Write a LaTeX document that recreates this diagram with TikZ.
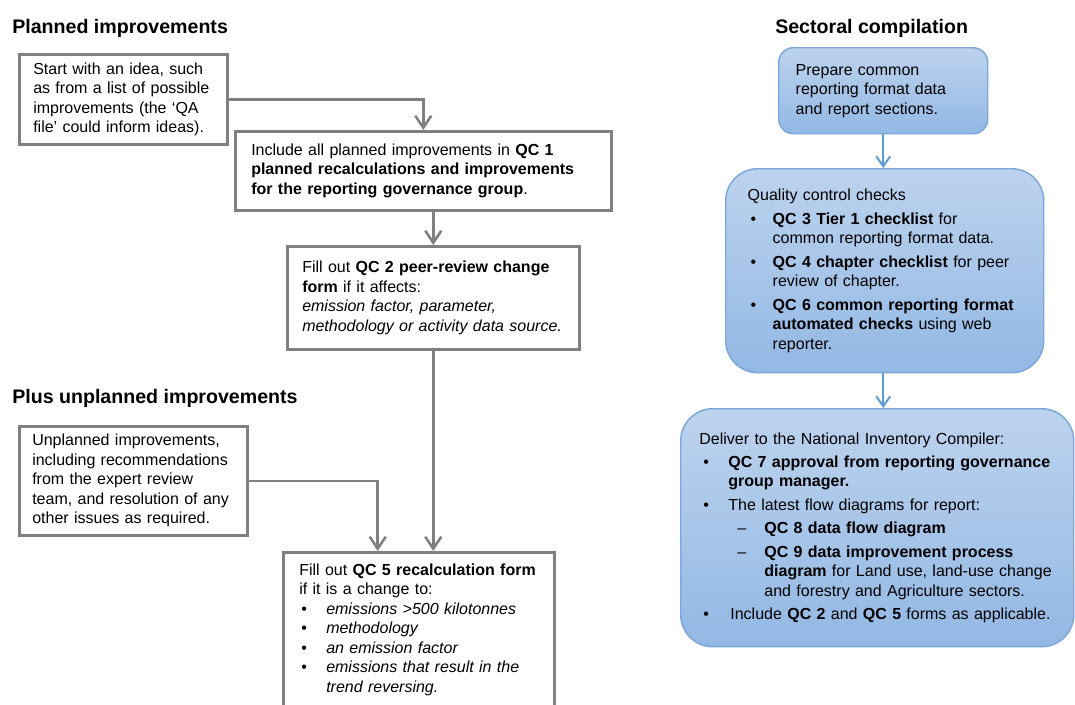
\documentclass[tikz,border=0pt]{standalone}
\usepackage{fontspec}
\setmainfont{Liberation Sans}
\usetikzlibrary{positioning,arrows.meta,calc}
\definecolor{QCGrey}{RGB}{128,128,128}
\definecolor{QCBlueTop}{RGB}{189,211,238}
\definecolor{QCBlueBottom}{RGB}{146,184,228}
\definecolor{QCBlueLine}{RGB}{125,167,217}
\definecolor{QCBlueArrow}{RGB}{91,155,213}
\newcommand{\boxfont}{\fontsize{12}{14.6}\selectfont}
\newcommand{\headfont}{\fontsize{14.7}{17}\selectfont\bfseries}
% bullet and dash markers: lead-in space, then a fixed-width box
\newcommand{\bul}[2]{\hspace*{#1}\makebox[#2][l]{\textbullet}}
\newcommand{\subdash}[2]{\hspace*{#1}\makebox[#2][l]{--}}
\newcommand{\qcindent}[1]{\hspace*{#1}}
\tikzset{headline/.style={font=\headfont, anchor=base west, inner sep=0pt}, planbox/.style={draw=QCGrey, line width=1.9pt, fill=white, align=left, anchor=north west, font=\boxfont}, secbox/.style={draw=QCBlueLine, line width=1.1pt, top color=QCBlueTop, bottom color=QCBlueBottom, align=left, anchor=north west, font=\boxfont}, planarrow/.style={-{Straight Barb[length=9pt,width=12pt]}, line width=1.9pt, draw=QCGrey}, secarrow/.style={-{Straight Barb[length=7.5pt,width=10.5pt]}, line width=1.5pt, draw=QCBlueArrow}}

\begin{document}
\begin{tikzpicture}[x=0.75pt, y=-0.75pt]
\path[use as bounding box, fill=white] (0,0) rectangle (1075,704);
% left column: planned and unplanned improvements
\node[headline] (plantitle) at (12,33) {Planned improvements};
\node[planbox, minimum width=156pt, minimum height=67.5pt, text width=135pt, inner xsep=10.5pt] (idea) at (18,53) {Start with an idea, such\\as from a list of possible\\improvements (the `QA\\file' could inform ideas).};
\node[planbox, minimum width=282pt, minimum height=59.25pt, text width=258pt, inner xsep=12pt] (qcone) at (234,130) {Include all planned improvements in \textbf{QC 1}\\\textbf{planned recalculations and improvements}\\\textbf{for the reporting governance group}.};
\node[planbox, minimum width=219pt, minimum height=77.25pt, text width=196.5pt, inner xsep=11.25pt] (qctwo) at (286,245) {Fill out \textbf{QC 2 peer-review change}\\\textbf{form} if it affects:\\\textit{emission factor, parameter,}\\\textit{methodology or activity data source.}};
\node[headline] (unpltitle) at (12,403) {Plus unplanned improvements};
\node[planbox, minimum width=171pt, minimum height=81.75pt, text width=151.5pt, inner xsep=9.75pt] (unpl) at (18,425) {Unplanned improvements,\\including recommendations\\from the expert review\\team, and resolution of any\\other issues as required.};
\node[planbox, minimum width=203.25pt, text width=179.25pt, inner xsep=12pt, inner ysep=8.5pt] (qcfive) at (282,551) {Fill out \textbf{QC 5 recalculation form}\\if it is a change to:\\\bul{1.5pt}{18.75pt}\textit{emissions >500 kilotonnes}\\\bul{1.5pt}{18.75pt}\textit{methodology}\\\bul{1.5pt}{18.75pt}\textit{an emission factor}\\\bul{1.5pt}{18.75pt}\textit{emissions that result in the}\\\qcindent{20.25pt}\textit{trend reversing.}};
\draw[planarrow] (idea.east) -| (qcone.north);
\draw[planarrow] (qcone.south -| qctwo.north) -- (qctwo.north);
\draw[planarrow] (qctwo.south) -- (qctwo.south |- qcfive.north);
\draw[planarrow] (unpl.east) -| ($(qcfive.north west)!0.35!(qcfive.north east)$);
% right column: sectoral compilation
\node[headline] (sectitle) at (775,33) {Sectoral compilation};
\node[secbox, rounded corners=11pt, minimum width=156.75pt, minimum height=64.5pt, text width=131.25pt, inner xsep=12.75pt] (prep) at (778,47) {Prepare common\\reporting format data\\and report sections.};
\node[secbox, rounded corners=24pt, minimum width=238.5pt, minimum height=153pt, text width=205.5pt, inner xsep=16.5pt] (qc) at (725,168) {Quality control checks\\[3pt]\bul{2.25pt}{16.5pt}\textbf{QC 3 Tier 1 checklist} for\\\qcindent{18.75pt}common reporting format data.\\[3pt]\bul{2.25pt}{16.5pt}\textbf{QC 4 chapter checklist} for peer\\\qcindent{18.75pt}review of chapter.\\[3pt]\bul{2.25pt}{16.5pt}\textbf{QC 6 common reporting format}\\\qcindent{18.75pt}\textbf{automated checks} using web\\\qcindent{18.75pt}reporter.};
\node[secbox, rounded corners=24pt, minimum width=294.75pt, minimum height=178.5pt, text width=266.75pt, inner xsep=14pt] (deliver) at (680,408) {Deliver to the National Inventory Compiler:\\[3pt]\bul{3pt}{18.75pt}\textbf{QC 7 approval from reporting governance}\\\qcindent{21.75pt}\textbf{group manager.}\\[3pt]\bul{3pt}{18.75pt}The latest flow diagrams for report:\\[3pt]\subdash{28.5pt}{20.25pt}\textbf{QC 8 data flow diagram}\\[3pt]\subdash{28.5pt}{20.25pt}\textbf{QC 9 data improvement process}\\\qcindent{48.75pt}\textbf{diagram} for Land use, land-use change\\\qcindent{48.75pt}and forestry and Agriculture sectors.\\[3pt]\bul{3pt}{20.25pt}\mbox{Include \textbf{QC 2} and \textbf{QC 5} forms as applicable.}};
\draw[secarrow] (prep.south) -- (prep.south |- qc.north);
\draw[secarrow] (qc.south -| prep.south) -- (prep.south |- deliver.north);
\end{tikzpicture}
\end{document}
